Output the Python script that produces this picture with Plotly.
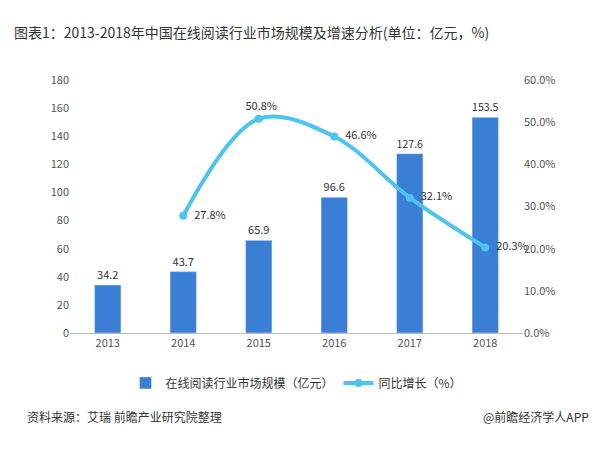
import plotly.graph_objects as go

years = ["2013", "2014", "2015", "2016", "2017", "2018"]
market_size = [34.2, 43.7, 65.9, 96.6, 127.6, 153.5]
growth_years = ["2014", "2015", "2016", "2017", "2018"]
growth_rate = [27.8, 50.8, 46.6, 32.1, 20.3]

font = "Noto Sans CJK SC"

fig = go.Figure()
fig.add_trace(go.Bar(
    x=years, y=market_size, name="在线阅读行业市场规模（亿元）",
    marker_color="#3a7fd5", width=0.35,
    text=[f"{v:.1f}" for v in market_size], textposition="outside",
    textfont=dict(size=11, color="#333"), cliponaxis=False,
))
fig.add_trace(go.Scatter(
    x=growth_years, y=growth_rate, name="同比增长（%）", yaxis="y2",
    mode="lines+markers+text", line=dict(color="#4fc3f0", width=4, shape="spline"),
    marker=dict(size=8, color="#4fc3f0"),
    text=["  " + f"{v:.1f}%" for v in growth_rate],
    textposition=["middle right", "top center", "middle right", "middle right", "middle right"],
    textfont=dict(size=11, color="#333"), cliponaxis=False,
))

fig.update_layout(
    width=600, height=457,
    margin=dict(l=62, r=85, t=72, b=132),
    paper_bgcolor="white", plot_bgcolor="white",
    font=dict(family=font, size=11, color="#555"),
    title=dict(text="图表1：2013-2018年中国在线阅读行业市场规模及增速分析(单位：亿元，%)",
               x=0.01, y=0.955, font=dict(size=14, color="#333")),
    xaxis=dict(showline=True, linecolor="#bbb", ticks=""),
    yaxis=dict(range=[0, 180], dtick=20, showgrid=False, showline=False, ticks=""),
    yaxis2=dict(range=[0, 60], dtick=10, overlaying="y", side="right",
                ticksuffix=".0%", showgrid=False, ticks=""),
    legend=dict(orientation="h", x=0.5, xanchor="center", y=-0.14, yanchor="top",
                font=dict(size=12, color="#333")),
    bargap=0.5,
)
fig.add_annotation(text="资料来源：艾瑞 前瞻产业研究院整理", xref="paper", yref="paper",
                   x=-0.1, y=-0.37, xanchor="left", showarrow=False,
                   font=dict(size=12, color="#333"))
fig.add_annotation(text="@前瞻经济学人APP", xref="paper", yref="paper",
                   x=1.15, y=-0.37, xanchor="right", showarrow=False,
                   font=dict(size=12, color="#333"))

fig.write_html("out.html")
